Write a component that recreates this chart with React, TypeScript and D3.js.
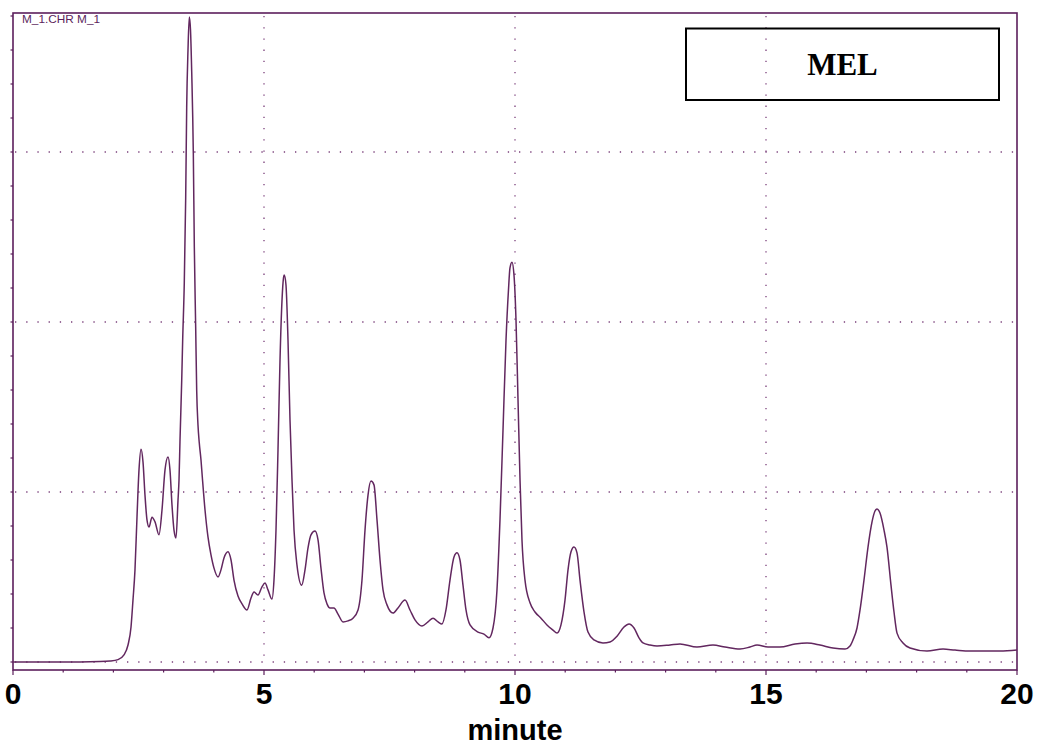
import React from "react";
import * as d3 from "d3";

// Retention time (minute) and detector response (arbitrary units, grid every 50)
const timeMin: number[] = [
  0, 0.936, 1.733, 1.932, 2.092, 2.211, 2.291, 2.351, 2.39, 2.43, 2.47, 2.51, 2.55, 2.59, 2.629, 2.669,
  2.709, 2.769, 2.829, 2.908, 2.968, 3.028, 3.088, 3.127, 3.167, 3.207, 3.247, 3.287, 3.307, 3.327, 3.361,
  3.38, 3.412, 3.44, 3.46, 3.486, 3.512, 3.536, 3.56, 3.592, 3.612, 3.639, 3.659, 3.685, 3.711, 3.745,
  3.771, 3.825, 3.884, 3.944, 4.004, 4.084, 4.143, 4.203, 4.283, 4.343, 4.402, 4.482, 4.562, 4.661, 4.741,
  4.801, 4.88, 4.96, 5.02, 5.08, 5.159, 5.199, 5.239, 5.279, 5.319, 5.359, 5.388, 5.404, 5.438, 5.478,
  5.518, 5.558, 5.598, 5.657, 5.751, 5.817, 5.876, 5.936, 6.016, 6.076, 6.135, 6.195, 6.255, 6.315, 6.394,
  6.474, 6.574, 6.673, 6.773, 6.873, 6.952, 7.012, 7.072, 7.131, 7.191, 7.251, 7.311, 7.371, 7.45, 7.57,
  7.669, 7.809, 7.908, 8.008, 8.147, 8.267, 8.367, 8.466, 8.546, 8.625, 8.705, 8.785, 8.845, 8.904, 8.964,
  9.024, 9.104, 9.263, 9.382, 9.482, 9.562, 9.641, 9.701, 9.761, 9.821, 9.87, 9.9, 9.94, 9.98, 10.02,
  10.06, 10.1, 10.139, 10.199, 10.299, 10.398, 10.518, 10.637, 10.757, 10.837, 10.916, 10.996, 11.056,
  11.116, 11.175, 11.235, 11.295, 11.375, 11.454, 11.574, 11.753, 11.892, 12.032, 12.171, 12.271, 12.371,
  12.47, 12.55, 12.689, 12.829, 13.088, 13.287, 13.625, 13.944, 14.183, 14.482, 14.681, 14.821, 15.04,
  15.279, 15.578, 15.817, 16.076, 16.335, 16.574, 16.673, 16.733, 16.813, 16.873, 16.952, 17.032, 17.112,
  17.171, 17.211, 17.271, 17.351, 17.41, 17.49, 17.55, 17.61, 17.729, 17.869, 18.207, 18.526, 18.765,
  19.064, 19.661, 20,
];

const signal: number[] = [
  0, 0, 0.15, 0.3, 0.7, 2.1, 5.0, 10.3, 18.2, 27.1, 42.6, 56.5, 62.6, 58.8, 49.1, 41.8,
  39.7, 42.6, 41.2, 37.4, 44.7, 56.5, 60.3, 56.5, 46.2, 38.8, 36.5, 47.6, 53.5, 65.3, 82.9,
  94.7, 111.5, 136.5, 163.2, 180.0, 189.7, 185.9, 173.5, 149.7, 122.1, 98.5, 80.0, 69.7, 64.4, 59.4,
  54.4, 44.7, 36.8, 31.5, 27.6, 25.0, 27.1, 30.6, 32.4, 30.0, 24.1, 19.4, 17.1, 15.3, 18.8,
  20.6, 19.7, 22.1, 23.2, 21.2, 18.5, 24.1, 38.8, 62.4, 88.8, 106.5, 112.9, 113.8, 110.9, 94.7,
  71.2, 53.5, 38.8, 28.5, 22.6, 27.1, 33.5, 37.4, 38.5, 35.9, 27.6, 20.3, 17.1, 15.9, 15.9,
  14.1, 11.8, 12.1, 12.9, 15.3, 24.1, 38.8, 49.1, 53.2, 52.1, 41.8, 30.0, 21.2, 16.8, 14.4,
  15.9, 18.2, 15.3, 12.4, 10.6, 11.8, 12.9, 11.8, 11.2, 15.3, 24.1, 30.9, 32.1, 30.0, 22.6,
  15.3, 10.9, 8.8, 8.2, 7.1, 10.0, 21.2, 41.8, 68.2, 94.7, 109.4, 115.9, 117.6, 113.8, 100.6,
  77.1, 53.5, 35.9, 24.1, 17.4, 14.7, 12.9, 10.9, 9.4, 8.5, 10.9, 18.2, 27.1,
  32.4, 33.8, 32.1, 24.1, 14.7, 8.8, 6.5, 5.6, 5.9, 7.6, 10.3, 11.2, 10.0,
  7.1, 5.6, 5.0, 4.7, 5.0, 5.3, 4.4, 5.0, 4.4, 3.8, 4.4, 5.0, 4.4,
  4.4, 5.3, 5.6, 5.0, 4.1, 3.8, 4.7, 6.5, 10.0, 15.3, 24.1, 33.8, 41.2,
  44.4, 45.0, 43.8, 38.8, 33.8, 22.6, 14.7, 8.5, 5.6, 4.1, 3.2, 3.8, 3.5,
  3.2, 3.2, 3.5,
];

const xTickLabels: number[] = [0, 5, 10, 15, 20];
const xMinorTicks: number[] = d3.range(0, 21, 1);
const yGridValues: number[] = [0, 50, 100, 150];
const yMinorTicks: number[] = d3.range(0, 191, 10);

const TITLE = "MEL";
const X_LABEL = "minute";
const TRACE_LABEL = "M_1.CHR M_1";

const W = 1038;
const H = 746;
const plot = { left: 13, right: 1017, top: 13, bottom: 670 };
const PURPLE = "#5c1f5c";
const LINE = "#62275f";
const GRID = "#7a3f7a";

export default function App() {
  const x = d3.scaleLinear().domain([0, 20]).range([plot.left, plot.right]);
  // value 0 sits 8px above the x-axis line; 50 units = 170px
  const y = d3
    .scaleLinear()
    .domain([-8 / 3.4, (plot.bottom - 8 - plot.top) / 3.4])
    .range([plot.bottom, plot.top]);

  const pts: [number, number][] = timeMin.map((t, i) => [t, signal[i]]);
  const line = d3
    .line<[number, number]>()
    .x((d) => x(d[0]))
    .y((d) => y(d[1]))
    .curve(d3.curveMonotoneX);

  const font = "'Liberation Sans', Arial, sans-serif";

  return (
    <svg
      width={W}
      height={H}
      style={{ position: "absolute", left: 0, top: 0, display: "block", background: "#fff" }}
    >
      {/* horizontal dotted grid */}
      {yGridValues.map((v) => (
        <line
          key={"hg" + v}
          x1={plot.left + 2}
          x2={plot.right - 2}
          y1={y(v)}
          y2={y(v)}
          stroke={GRID}
          strokeWidth={1.3}
          strokeDasharray="1.3 9.9"
        />
      ))}
      {/* vertical dotted grid */}
      {xTickLabels
        .filter((t) => t > 0 && t < 20)
        .map((t) => (
          <line
            key={"vg" + t}
            x1={x(t)}
            x2={x(t)}
            y1={plot.top + 3}
            y2={y(0)}
            stroke={GRID}
            strokeWidth={1.3}
            strokeDasharray="1.3 9.9"
          />
        ))}

      {/* frame */}
      <rect
        x={plot.left}
        y={plot.top}
        width={plot.right - plot.left}
        height={plot.bottom - plot.top}
        fill="none"
        stroke={PURPLE}
        strokeWidth={1.6}
      />

      {/* y minor ticks */}
      {yMinorTicks.map((v) => (
        <line key={"yt" + v} x1={plot.left - 2.5} x2={plot.left} y1={y(v)} y2={y(v)} stroke={PURPLE} strokeWidth={1.2} />
      ))}
      {/* x ticks */}
      {xMinorTicks.map((t) => {
        const major = t % 5 === 0;
        return (
          <line
            key={"xt" + t}
            x1={x(t)}
            x2={x(t)}
            y1={plot.bottom}
            y2={plot.bottom + (major ? 5 : 2.5)}
            stroke={PURPLE}
            strokeWidth={1.2}
          />
        );
      })}
      {xTickLabels.map((t) => (
        <text
          key={"xl" + t}
          x={x(t)}
          y={704}
          textAnchor="middle"
          fontFamily={font}
          fontWeight="bold"
          fontSize={30}
          fill="#000"
        >
          {t}
        </text>
      ))}
      <text
        x={(plot.left + plot.right) / 2}
        y={740}
        textAnchor="middle"
        fontFamily={font}
        fontWeight="bold"
        fontSize={29}
        fill="#000"
      >
        {X_LABEL}
      </text>

      {/* trace label */}
      <text x={22} y={22.5} fontFamily={font} fontSize={11.8} fill={PURPLE}>
        {TRACE_LABEL}
      </text>

      {/* chromatogram */}
      <path d={line(pts) || ""} fill="none" stroke={LINE} strokeWidth={1.5} strokeLinejoin="round" />

      {/* title box */}
      <rect x={686} y={28.5} width={313} height={71.5} fill="none" stroke="#000" strokeWidth={2} />
      <text
        x={842.5}
        y={75}
        textAnchor="middle"
        fontFamily="'Liberation Serif', 'Times New Roman', serif"
        fontWeight="bold"
        fontSize={31}
        fill="#000"
      >
        {TITLE}
      </text>
    </svg>
  );
}
